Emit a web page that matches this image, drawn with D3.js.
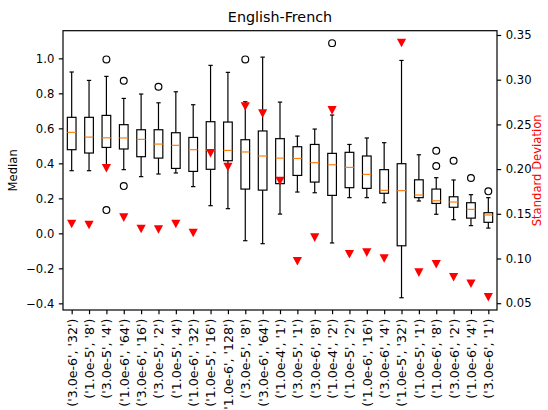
<!DOCTYPE html>
<html>
<head>
<meta charset="utf-8">
<script src="https://cdn.jsdelivr.net/npm/d3@7"></script>
<style>
  body { margin: 0; background: #fff; }
  svg text { font-family: "DejaVu Sans", sans-serif; }
</style>
</head>
<body>
<svg id="chart"></svg>
<script>
// boxplot stats per config
const labels = ["('3.0e-6', '32')", "('1.0e-5', '8')", "('3.0e-5', '4')", "('1.0e-6', '64')",
    "('3.0e-6', '16')", "('3.0e-5', '2')", "('1.0e-5', '4')", "('1.0e-6', '32')",
    "('1.0e-5', '16')", "('1.0e-6', '128')", "('3.0e-5', '8')", "('3.0e-6', '64')",
    "('1.0e-4', '1')", "('3.0e-5', '1')", "('3.0e-6', '8')", "('1.0e-4', '2')",
    "('1.0e-5', '2')", "('1.0e-6', '16')", "('3.0e-6', '4')", "('1.0e-5', '32')",
    "('1.0e-5', '1')", "('1.0e-6', '8')", "('3.0e-6', '2')", "('1.0e-6', '4')", "('3.0e-6', '1')"];
const whiskerHigh = [0.922, 0.874, 0.897, 0.771, 0.796, 0.746, 0.809, 0.735, 0.960, 0.920, 0.752, 1.007, 0.750,
    0.556, 0.596, 0.676, 0.508, 0.545, 0.518, 0.988, 0.449, 0.318, 0.305, 0.221, 0.204];
const q3 = [0.663, 0.663, 0.674, 0.621, 0.592, 0.592, 0.575, 0.548, 0.638, 0.636, 0.535, 0.585, 0.541,
    0.495, 0.508, 0.457, 0.463, 0.442, 0.364, 0.398, 0.306, 0.253, 0.209, 0.175, 0.118];
const median = [0.577, 0.550, 0.546, 0.545, 0.537, 0.510, 0.503, 0.478, 0.476, 0.474, 0.465, 0.442, 0.430,
    0.428, 0.404, 0.392, 0.377, 0.337, 0.246, 0.244, 0.219, 0.186, 0.179, 0.137, 0.105];
const q1 = [0.478, 0.459, 0.491, 0.482, 0.438, 0.430, 0.371, 0.354, 0.366, 0.415, 0.253, 0.247, 0.284,
    0.331, 0.293, 0.217, 0.261, 0.257, 0.229, -0.071, 0.204, 0.171, 0.149, 0.087, 0.063];
const whiskerLow = [0.358, 0.358, 0.380, 0.364, 0.324, 0.339, 0.345, 0.267, 0.158, 0.141, -0.042, -0.059, 0.110,
    0.236, 0.232, -0.055, 0.204, 0.204, 0.175, -0.368, 0.185, 0.109, 0.078, 0.044, 0.030];
const outliers = [[], [], [0.994, 0.133], [0.872, 0.270], [], [0.838], [], [], [], [], [0.994], [], [],
    [], [], [1.087], [], [], [], [], [], [0.472, 0.385], [0.415], [0.316], [0.240]];
const stdDev = [0.1386, 0.1375, 0.201, 0.1457, 0.133, 0.1325, 0.1386, 0.1285, 0.2177, 0.2024, 0.270, 0.262, 0.1867,
    0.097, 0.1234, 0.2657, 0.1047, 0.1066, 0.100, 0.341, 0.0842, 0.0935, 0.079, 0.0718, 0.0566];
const medianTicks = [-0.4, -0.2, 0.0, 0.2, 0.4, 0.6, 0.8, 1.0];
const stdTicks = [0.05, 0.10, 0.15, 0.20, 0.25, 0.30, 0.35];

const W = 548, H = 410;
const margin = { top: 30.7, right: 51, bottom: 100, left: 63 };
const fs = "11.6px";
const lw = 1.19;

const svg = d3.select("#chart").attr("width", W).attr("height", H);

const x = d3.scalePoint()
    .domain(labels)
    .range([margin.left, W - margin.right])
    .padding(0.5);
const step = x.step();

const y = d3.scaleLinear()
    .domain([-0.438, 1.158])
    .range([H - margin.bottom, margin.top]);

const y2 = d3.scaleLinear()
    .domain([0.0424, 0.3548])
    .range([H - margin.bottom, margin.top]);

const boxes = labels.map((l, i) => ({
    label: l, lo: whiskerLow[i], q1: q1[i], med: median[i], q3: q3[i], hi: whiskerHigh[i],
    out: outliers[i], sd: stdDev[i]
}));

const boxW = step * 0.5;
const capW = boxW * 0.5;

let g = svg.append("g");

// whiskers
g.selectAll(".whisker")
    .data(boxes.flatMap(d => [[d, d.lo, d.q1], [d, d.q3, d.hi]]))
    .enter().append("line")
    .attr("x1", d => x(d[0].label)).attr("x2", d => x(d[0].label))
    .attr("y1", d => y(d[1])).attr("y2", d => y(d[2]))
    .attr("stroke", "#000").attr("stroke-width", lw);

// caps
g.selectAll(".cap")
    .data(boxes.flatMap(d => [[d, d.lo], [d, d.hi]]))
    .enter().append("line")
    .attr("x1", d => x(d[0].label) - capW / 2).attr("x2", d => x(d[0].label) + capW / 2)
    .attr("y1", d => y(d[1])).attr("y2", d => y(d[1]))
    .attr("stroke", "#000").attr("stroke-width", lw);

// boxes
g.selectAll(".box")
    .data(boxes)
    .enter().append("rect")
    .attr("x", d => x(d.label) - boxW / 2)
    .attr("width", boxW)
    .attr("y", d => y(d.q3))
    .attr("height", d => y(d.q1) - y(d.q3))
    .attr("fill", "none").attr("stroke", "#000").attr("stroke-width", lw);

// medians
g.selectAll(".median")
    .data(boxes)
    .enter().append("line")
    .attr("x1", d => x(d.label) - boxW / 2).attr("x2", d => x(d.label) + boxW / 2)
    .attr("y1", d => y(d.med)).attr("y2", d => y(d.med))
    .attr("stroke", "#ff7f0e").attr("stroke-width", lw);

// fliers
g.selectAll(".flier")
    .data(boxes.flatMap(d => d.out.map(v => [d, v])))
    .enter().append("circle")
    .attr("cx", d => x(d[0].label))
    .attr("cy", d => y(d[1]))
    .attr("r", 3.4)
    .attr("fill", "none").attr("stroke", "#000").attr("stroke-width", lw);

// std dev markers (down triangles)
function tri(cx, cy) {
    const hw = 4.6, hh = 4.3;
    return "M" + (cx - hw) + "," + (cy - hh) + "L" + (cx + hw) + "," + (cy - hh) + "L" + cx + "," + (cy + hh) + "Z";
}
g.selectAll(".sd")
    .data(boxes)
    .enter().append("path")
    .attr("d", d => tri(x(d.label), y2(d.sd)))
    .attr("fill", "#ff0000");

// axes
const xAxis = svg.append("g")
    .attr("transform", "translate(0," + (H - margin.bottom) + ")")
    .call(d3.axisBottom(x).tickSizeOuter(0).tickSize(4.2));

const yAxis = svg.append("g")
    .attr("transform", "translate(" + margin.left + ",0)")
    .call(d3.axisLeft(y).tickValues(medianTicks).tickFormat(d3.format(".1f"))
        .tickSizeOuter(0).tickSize(4.2).tickPadding(4.5));

const y2Axis = svg.append("g")
    .attr("transform", "translate(" + (W - margin.right) + ",0)")
    .call(d3.axisRight(y2).tickValues(stdTicks).tickFormat(d3.format(".2f"))
        .tickSizeOuter(0).tickSize(4.2).tickPadding(4.5));

svg.selectAll(".tick text").style("font-size", fs).attr("fill", "#000");
svg.selectAll(".tick line").attr("stroke", "#000").attr("stroke-width", lw);
svg.selectAll(".domain").remove();

xAxis.selectAll("text")
    .attr("transform", "rotate(-90)")
    .attr("x", -8.6).attr("y", 0).attr("dy", "0.35em")
    .style("text-anchor", "end")
    .style("font-size", "12.6px");

// frame
svg.append("rect")
    .attr("x", margin.left).attr("y", margin.top)
    .attr("width", W - margin.left - margin.right)
    .attr("height", H - margin.top - margin.bottom)
    .attr("fill", "none").attr("stroke", "#000").attr("stroke-width", lw);

// title and labels
svg.append("text")
    .attr("x", (margin.left + W - margin.right) / 2).attr("y", 22)
    .attr("text-anchor", "middle")
    .style("font-size", "14.3px")
    .text("English-French");

svg.append("text")
    .attr("transform", "translate(17," + ((margin.top + H - margin.bottom) / 2) + ") rotate(-90)")
    .attr("text-anchor", "middle")
    .style("font-size", fs)
    .text("Median");

svg.append("text")
    .attr("transform", "translate(541," + ((margin.top + H - margin.bottom) / 2) + ") rotate(-90)")
    .attr("text-anchor", "middle")
    .attr("fill", "#ff0000")
    .style("font-size", fs)
    .text("Standard Deviation");
</script>
</body>
</html>
